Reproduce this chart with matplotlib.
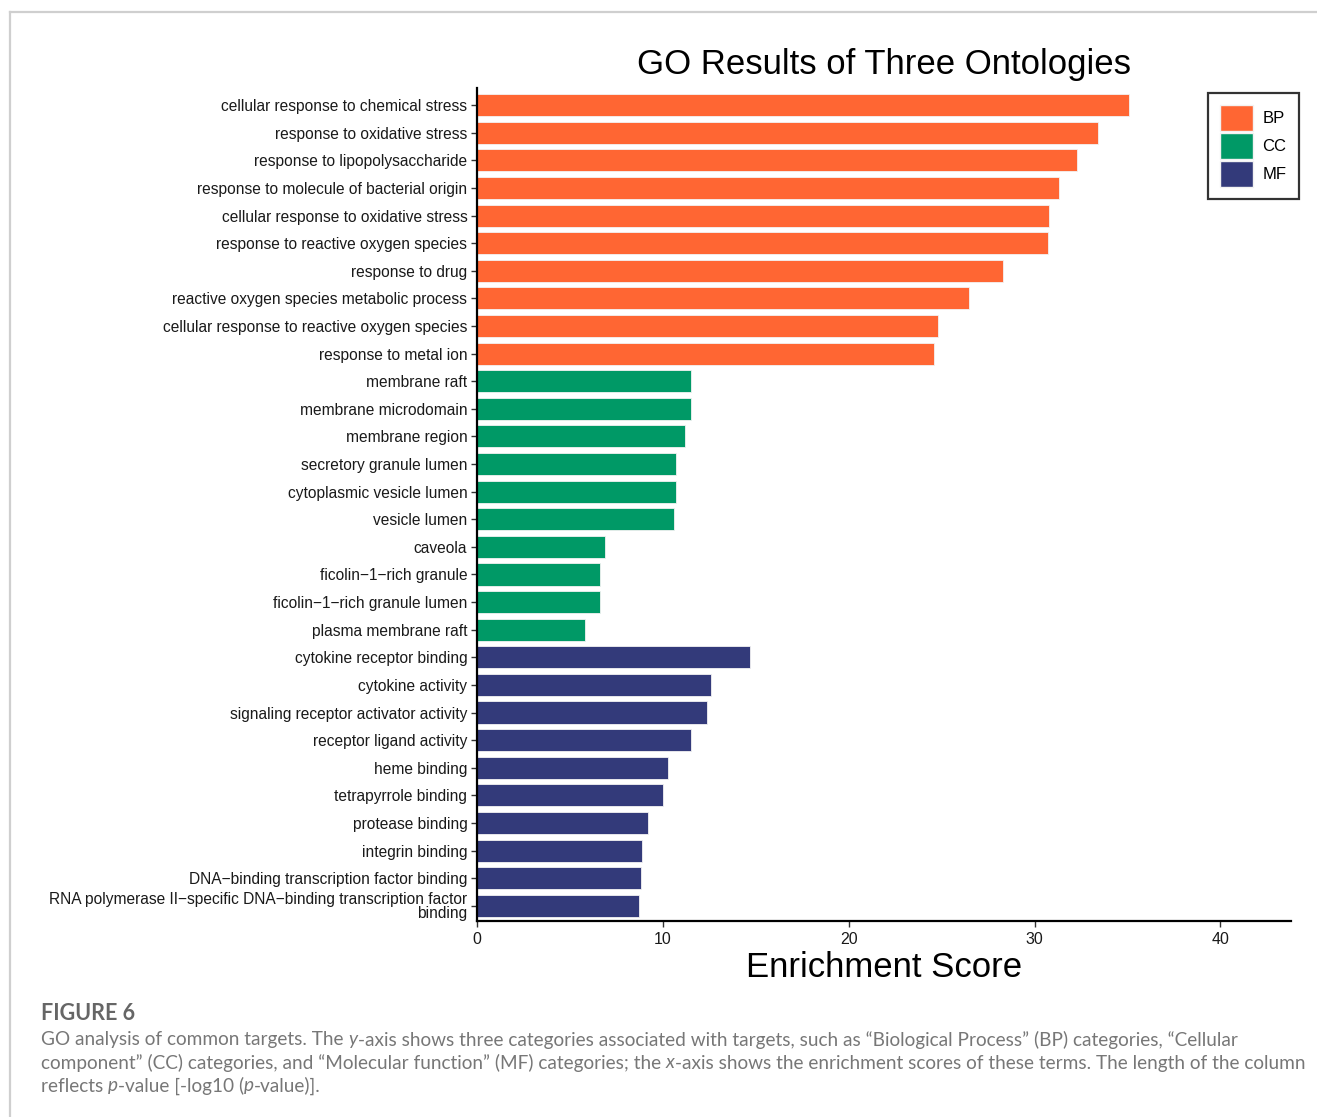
import matplotlib
matplotlib.use("Agg")
import matplotlib.pyplot as plt
from matplotlib.patches import Patch
from matplotlib.lines import Line2D
import numpy as np

plt.rcParams["font.family"] = ["Liberation Sans", "DejaVu Sans"]

terms = [
    "cellular response to chemical stress",
    "response to oxidative stress",
    "response to lipopolysaccharide",
    "response to molecule of bacterial origin",
    "cellular response to oxidative stress",
    "response to reactive oxygen species",
    "response to drug",
    "reactive oxygen species metabolic process",
    "cellular response to reactive oxygen species",
    "response to metal ion",
    "membrane raft",
    "membrane microdomain",
    "membrane region",
    "secretory granule lumen",
    "cytoplasmic vesicle lumen",
    "vesicle lumen",
    "caveola",
    "ficolin\u22121\u2212rich granule",
    "ficolin\u22121\u2212rich granule lumen",
    "plasma membrane raft",
    "cytokine receptor binding",
    "cytokine activity",
    "signaling receptor activator activity",
    "receptor ligand activity",
    "heme binding",
    "tetrapyrrole binding",
    "protease binding",
    "integrin binding",
    "DNA\u2212binding transcription factor binding",
    "RNA polymerase II\u2212specific DNA\u2212binding transcription factor\nbinding",
]
scores = [35.1, 33.4, 32.3, 31.3, 30.8, 30.7, 28.3, 26.5, 24.8, 24.6,
          11.5, 11.5, 11.2, 10.7, 10.7, 10.6, 6.9, 6.6, 6.6, 5.8,
          14.7, 12.6, 12.4, 11.5, 10.3, 10.0, 9.2, 8.9, 8.8, 8.7]
groups = ["BP"] * 10 + ["CC"] * 10 + ["MF"] * 10
palette = {"BP": "#FF6633", "CC": "#009966", "MF": "#333A7A"}

W, H = 1317, 1117
fig = plt.figure(figsize=(W / 100, H / 100), dpi=100)


def fx(px):
    return px / W


def fy(py):
    return 1 - py / H


# card frame (top and left edge)
fig.add_artist(Line2D([fx(10), 1], [fy(12), fy(12)], color="#cfcfcf", lw=1.6))
fig.add_artist(Line2D([fx(10), fx(10)], [fy(12), 0], color="#cfcfcf", lw=1.6))

ax = fig.add_axes([fx(477), fy(921), fx(1291) - fx(477), fy(88) - fy(921)])
y = np.arange(len(terms))
ax.barh(y, scores, height=0.8, color=[palette[g] for g in groups],
        edgecolor="#f2f2f2", linewidth=0.6)
ax.set_yticks(y)
ax.set_yticklabels(terms, fontsize=11.2, color="#1a1a1a")
ax.get_yticklabels()[-1].set_linespacing(0.92)
ax.set_xlim(0, 43.8)
ax.set_ylim(29.55, -0.62)
ax.set_xticks([0, 10, 20, 30, 40])
ax.tick_params(axis="x", labelsize=11.5, labelcolor="#1a1a1a", length=4, width=1,
               color="#333333", pad=4)
ax.tick_params(axis="y", length=4, width=1, color="#333333", pad=3)
for s in ["top", "right"]:
    ax.spines[s].set_visible(False)
for s in ["left", "bottom"]:
    ax.spines[s].set_linewidth(1.6)
    ax.spines[s].set_color("black")

ax.set_title("GO Results of Three Ontologies", fontsize=25, pad=10)
ax.set_xlabel("Enrichment Score", fontsize=25, labelpad=3)

handles = [Patch(facecolor=palette[g], edgecolor="#f2f2f2", label=g) for g in ["BP", "CC", "MF"]]
leg = fig.legend(handles=handles, loc="upper left",
                 bbox_to_anchor=(fx(1208), fy(93)), borderaxespad=0,
                 fontsize=12, handlelength=1.95, handleheight=2.05,
                 labelspacing=0.1, handletextpad=0.6, borderpad=0.72,
                 frameon=True, fancybox=False)
leg.get_frame().set_edgecolor("black")
leg.get_frame().set_linewidth(1.6)

# caption
cap_font = ["Lato", "DejaVu Sans"]
fig.text(fx(41), fy(1014), "FIGURE 6", fontsize=15.5, color="#666666",
         family=cap_font, fontweight="bold", va="center")

cap_lines = [
    [("GO analysis of common targets. The ", "normal"), ("y", "italic"),
     ("-axis shows three categories associated with targets, such as \u201cBiological Process\u201d (BP) categories, \u201cCellular", "normal")],
    [("component\u201d (CC) categories, and \u201cMolecular function\u201d (MF) categories; the ", "normal"),
     ("x", "italic"), ("-axis shows the enrichment scores of these terms. The length of the column", "normal")],
    [("reflects ", "normal"), ("p", "italic"), ("-value [-log10 (", "normal"), ("p", "italic"), ("-value)].", "normal")],
]
cap_y = [1040, 1063, 1086]

renderer = fig.canvas.get_renderer()
for runs, py in zip(cap_lines, cap_y):
    x = fx(41)
    for txt, style in runs:
        t = fig.text(x, fy(py), txt, fontsize=13.65, color="#777777",
                     family=cap_font, style=style, va="center")
        bb = t.get_window_extent(renderer=renderer)
        x += bb.width / W

fig.savefig("out.png", dpi=100)
